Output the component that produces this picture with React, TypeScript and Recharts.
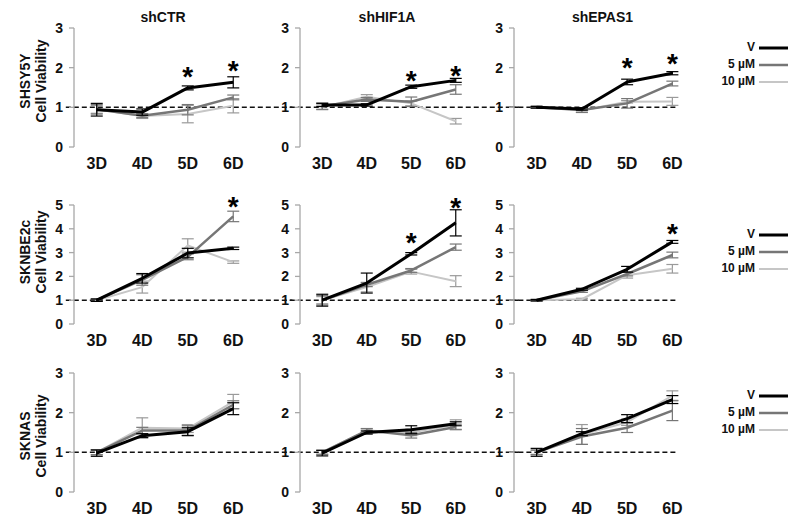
import React from 'react';
import { ComposedChart, Line, XAxis, YAxis, ErrorBar, ReferenceLine, ReferenceDot } from 'recharts';

// ---------------- data ----------------
const days = [3, 4, 5, 6];
const dayLabels = ['3D', '4D', '5D', '6D'];
const seriesNames = ['V', '5 µM', '10 µM'];
const treatments = ['shCTR', 'shHIF1A', 'shEPAS1'];
const cellLines = ['SHSY5Y', 'SKNBE2c', 'SKNAS'];
const yTicks3 = [0, 1, 2, 3];
const yTicks5 = [0, 1, 2, 3, 4, 5];
const baselineValue = 1;

// SHSY5Y  (rows: V, 5 µM, 10 µM; columns: 3D..6D)
const shsyCtrMean = [[0.94, 0.88, 1.49, 1.63], [0.95, 0.79, 0.94, 1.25], [0.95, 0.78, 0.83, 1.04]];
const shsyCtrErr = [[0.16, 0.08, 0.05, 0.14], [0.12, 0.05, 0.13, 0.06], [0.1, 0.06, 0.22, 0.18]];
const shsyCtrStar = [null, null, 1.9, 2.05];

const shsyHifMean = [[1.06, 1.06, 1.52, 1.68], [1.03, 1.2, 1.14, 1.45], [1.0, 1.27, 1.1, 0.65]];
const shsyHifErr = [[0.04, 0.03, 0.04, 0.05], [0.08, 0.05, 0.12, 0.12], [0.06, 0.05, 0.06, 0.07]];
const shsyHifStar = [null, null, 1.8, 1.92];

const shsyEpasMean = [[1.0, 0.96, 1.64, 1.86], [1.0, 0.93, 1.1, 1.6], [1.02, 0.92, 1.14, 1.15]];
const shsyEpasErr = [[0.02, 0.03, 0.07, 0.04], [0.02, 0.06, 0.12, 0.06], [0.02, 0.04, 0.03, 0.1]];
const shsyEpasStar = [null, null, 2.12, 2.23];

// SKNBE2c
const sknbeCtrMean = [[1.0, 1.92, 2.98, 3.18], [1.0, 1.85, 2.82, 4.52], [1.0, 1.55, 3.3, 2.6]];
const sknbeCtrErr = [[0.05, 0.2, 0.2, 0.05], [0.05, 0.22, 0.12, 0.22], [0.05, 0.25, 0.28, 0.05]];
const sknbeCtrStar = [null, null, null, 5.15];

const sknbeHifMean = [[1.0, 1.72, 2.95, 4.25], [1.0, 1.65, 2.25, 3.23], [1.0, 1.55, 2.2, 1.8]];
const sknbeHifErr = [[0.25, 0.42, 0.05, 0.55], [0.2, 0.08, 0.08, 0.13], [0.15, 0.2, 0.1, 0.23]];
const sknbeHifStar = [null, null, 3.62, 5.12];

const sknbeEpasMean = [[1.0, 1.46, 2.3, 3.45], [1.0, 1.37, 2.1, 2.9], [1.0, 1.04, 2.05, 2.32]];
const sknbeEpasErr = [[0.03, 0.04, 0.12, 0.06], [0.03, 0.04, 0.08, 0.12], [0.03, 0.04, 0.12, 0.18]];
const sknbeEpasStar = [null, null, null, 4.02];

// SKNAS
const sknasCtrMean = [[0.98, 1.42, 1.52, 2.1], [1.0, 1.55, 1.55, 2.2], [1.0, 1.62, 1.6, 2.28]];
const sknasCtrErr = [[0.08, 0.05, 0.1, 0.15], [0.06, 0.08, 0.12, 0.1], [0.06, 0.25, 0.1, 0.18]];
const sknasCtrStar = [null, null, null, null];

const sknasHifMean = [[0.98, 1.5, 1.57, 1.72], [1.0, 1.55, 1.43, 1.64], [1.0, 1.55, 1.5, 1.7]];
const sknasHifErr = [[0.07, 0.04, 0.1, 0.05], [0.05, 0.05, 0.07, 0.07], [0.05, 0.04, 0.08, 0.12]];
const sknasHifStar = [null, null, null, null];

const sknasEpasMean = [[1.0, 1.47, 1.85, 2.33], [1.0, 1.4, 1.62, 2.05], [1.0, 1.45, 1.76, 2.43]];
const sknasEpasErr = [[0.1, 0.05, 0.1, 0.1], [0.06, 0.2, 0.12, 0.25], [0.05, 0.25, 0.08, 0.12]];
const sknasEpasStar = [null, null, null, null];

// ---------------- layout / style ----------------
const FONT = '"Liberation Sans", Arial, Helvetica, sans-serif';
const AXIS = '#a8a8a8';
const SERIES_STYLE = [
  { color: '#000000', width: 3 },
  { color: '#767676', width: 2.5 },
  { color: '#c6c6c6', width: 2 },
];
const Y_W = 45;
const M_TOP = 26;
const M_RIGHT = 50;
const X_H = 30;
const PLOT_H = 119;
const COLS = [
  { plotLeft: 74, plotW: 182, dash: [2.32, 7.3] },
  { plotLeft: 300, plotW: 178, dash: [2.27, 7.45] },
  { plotLeft: 514, plotW: 181, dash: [2.42, 6.12] },
];
const ROWS = [
  { plotTop: 28, ticks: yTicks3, labelY: 81, legendY: 47 },
  { plotTop: 205, ticks: yTicks5, labelY: 252, legendY: 234 },
  { plotTop: 373, ticks: yTicks3, labelY: 436, legendY: 395 },
];

const panelTable = [
  [
    [shsyCtrMean, shsyCtrErr, shsyCtrStar],
    [shsyHifMean, shsyHifErr, shsyHifStar],
    [shsyEpasMean, shsyEpasErr, shsyEpasStar],
  ],
  [
    [sknbeCtrMean, sknbeCtrErr, sknbeCtrStar],
    [sknbeHifMean, sknbeHifErr, sknbeHifStar],
    [sknbeEpasMean, sknbeEpasErr, sknbeEpasStar],
  ],
  [
    [sknasCtrMean, sknasCtrErr, sknasCtrStar],
    [sknasHifMean, sknasHifErr, sknasHifStar],
    [sknasEpasMean, sknasEpasErr, sknasEpasStar],
  ],
];

const STAR_SIZE = 28;
const starShape = (p: any) => (
  <text
    x={p.cx}
    y={p.cy + STAR_SIZE * 0.52}
    textAnchor="middle"
    fontSize={STAR_SIZE}
    fontWeight={700}
    fontFamily={FONT}
    fill="#000"
  >
    *
  </text>
);

function Panel({ row, col }: { row: number; col: number }) {
  const [mean, err, star] = panelTable[row][col];
  const R = ROWS[row];
  const C = COLS[col];
  const data = days.map((d, i) => ({
    day: d,
    s0: mean[0][i],
    e0: err[0][i],
    s1: mean[1][i],
    e1: err[1][i],
    s2: mean[2][i],
    e2: err[2][i],
  }));
  const width = C.plotW + Y_W + M_RIGHT;
  const height = M_TOP + PLOT_H + X_H;
  const yMax = R.ticks[R.ticks.length - 1];
  const gridTicks = [days[0] - 0.5, ...days.map((d) => d + 0.5)];
  return (
    <div style={{ position: 'absolute', left: C.plotLeft - Y_W, top: R.plotTop - M_TOP }}>
      <ComposedChart
        width={width}
        height={height}
        data={data}
        margin={{ top: M_TOP, right: M_RIGHT, bottom: 0, left: 0 }}
      >
        <XAxis
          xAxisId="grid"
          dataKey="day"
          type="number"
          domain={[days[0] - 0.5, days[days.length - 1] + 0.5]}
          ticks={gridTicks}
          interval={0}
          tick={false}
          tickSize={5}
          height={0}
          axisLine={{ stroke: AXIS, strokeWidth: 1.3 }}
          tickLine={{ stroke: AXIS, strokeWidth: 1.3 }}
        />
        <XAxis
          xAxisId="lab"
          dataKey="day"
          type="number"
          domain={[days[0] - 0.5, days[days.length - 1] + 0.5]}
          ticks={days}
          interval={0}
          tickFormatter={(v: number) => dayLabels[days.indexOf(v)]}
          axisLine={false}
          tickLine={false}
          tickMargin={5}
          height={X_H}
          tick={{ fill: '#111', fontSize: 16, fontWeight: 700, fontFamily: FONT }}
        />
        <YAxis
          type="number"
          domain={[0, yMax]}
          ticks={R.ticks}
          interval={0}
          width={Y_W}
          tickSize={5}
          tickMargin={6}
          axisLine={{ stroke: AXIS, strokeWidth: 1.3 }}
          tickLine={{ stroke: AXIS, strokeWidth: 1.3 }}
          tick={{ fill: '#111', fontSize: 14, fontWeight: 700, fontFamily: FONT }}
        />
        <ReferenceLine
          xAxisId="lab"
          segment={[
            { x: C.dash[0], y: baselineValue },
            { x: C.dash[1], y: baselineValue },
          ]}
          stroke="#111"
          strokeWidth={1.5}
          strokeDasharray="5 3"
          ifOverflow="visible"
        />
        {[2, 1, 0].map((k) => (
          <Line
            key={k}
            xAxisId="lab"
            type="linear"
            dataKey={`s${k}`}
            name={seriesNames[k]}
            stroke={SERIES_STYLE[k].color}
            strokeWidth={SERIES_STYLE[k].width}
            strokeLinejoin="round"
            dot={false}
            activeDot={false}
            isAnimationActive={false}
          >
            <ErrorBar
              dataKey={`e${k}`}
              direction="y"
              width={6}
              stroke={k === 2 ? '#9a9a9a' : SERIES_STYLE[k].color}
              strokeWidth={1.2}
              isAnimationActive={false}
            />
          </Line>
        ))}
        {days.map((d, i) =>
          star[i] != null ? (
            <ReferenceDot
              key={`st${i}`}
              xAxisId="lab"
              x={d}
              y={star[i] as number}
              r={0}
              ifOverflow="visible"
              shape={starShape}
            />
          ) : null
        )}
      </ComposedChart>
    </div>
  );
}

function Overlay() {
  const titleX = COLS.map((c) => c.plotLeft + c.plotW / 2 - 2);
  return (
    <svg
      width={800}
      height={517}
      style={{ position: 'absolute', left: 0, top: 0, pointerEvents: 'none' }}
      fontFamily={FONT}
      fontWeight={700}
    >
      {treatments.map((t, i) => (
        <text key={t} x={titleX[i]} y={22} textAnchor="middle" fontSize={14} fill="#111">
          {t}
        </text>
      ))}
      {cellLines.map((c, r) => (
        <g key={c}>
          <text
            x={25}
            y={ROWS[r].labelY}
            transform={`rotate(-90 25 ${ROWS[r].labelY})`}
            textAnchor="middle"
            dominantBaseline="central"
            fontSize={14}
            fill="#111"
          >
            {c}
          </text>
          <text
            x={41}
            y={ROWS[r].labelY}
            transform={`rotate(-90 41 ${ROWS[r].labelY})`}
            textAnchor="middle"
            dominantBaseline="central"
            fontSize={14}
            fill="#111"
          >
            Cell Viability
          </text>
        </g>
      ))}
      {ROWS.map((R, r) => (
        <g key={`lg${r}`}>
          {seriesNames.map((s, k) => (
            <g key={s}>
              <text x={755} y={R.legendY + k * 17 + 4} textAnchor="end" fontSize={12} fill="#111">
                {s}
              </text>
              <line
                x1={759}
                x2={788}
                y1={R.legendY + k * 17 + 1}
                y2={R.legendY + k * 17 + 1}
                stroke={SERIES_STYLE[k].color}
                strokeWidth={SERIES_STYLE[k].width}
              />
            </g>
          ))}
        </g>
      ))}
    </svg>
  );
}

export default function App() {
  return (
    <div
      style={{
        position: 'absolute',
        left: 0,
        top: 0,
        width: 800,
        height: 517,
        background: '#fff',
        overflow: 'hidden',
        fontFamily: FONT,
      }}
    >
      {ROWS.map((_, r) => COLS.map((__, c) => <Panel key={`${r}-${c}`} row={r} col={c} />))}
      <Overlay />
    </div>
  );
}
